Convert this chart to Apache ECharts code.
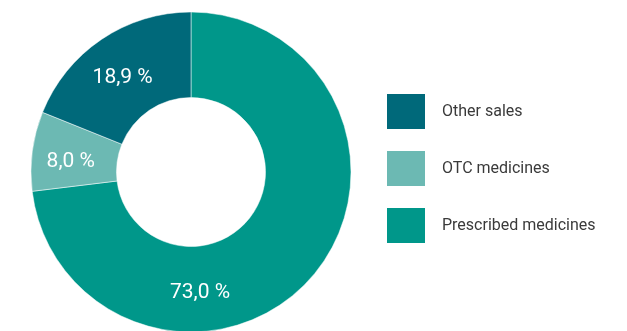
<!DOCTYPE html>
<html>
<head>
<meta charset="utf-8">
<style>
  html, body { margin: 0; padding: 0; background: #ffffff; }
  #chart { width: 627px; height: 331px; }
</style>
<script src="https://cdn.jsdelivr.net/npm/echarts@6/dist/echarts.min.js"></script>
</head>
<body>
<div id="chart"></div>
<script>
// Sales split, drawn clockwise from 12 o'clock
const categories = ['Prescribed medicines', 'OTC medicines', 'Other sales'];
const shares = [73.0, 8.0, 18.9];
const colors = ['#00978a', '#6cb9b3', '#00697a'];
const legendOrder = ['Other sales', 'OTC medicines', 'Prescribed medicines'];

const fmt = v => v.toFixed(1).replace('.', ',') + ' %';

const chart = echarts.init(document.getElementById('chart'), null, { renderer: 'canvas' });

chart.setOption({
  animation: false,
  color: colors,
  legend: {
    data: legendOrder,
    orient: 'vertical',
    left: 380,
    top: 87,
    itemWidth: 40,
    itemHeight: 37,
    itemGap: 18,
    icon: 'rect',
    selectedMode: false,
    textStyle: {
      color: '#3a3a3a',
      fontFamily: 'Roboto',
      fontSize: 16,
      padding: [0, 0, 0, 11]
    }
  },
  series: [{
    type: 'pie',
    center: [191, 172],
    radius: [74.5, 160],
    startAngle: 90,
    clockwise: true,
    silent: true,
    itemStyle: { borderColor: '#ffffff', borderWidth: 0.5 },
    label: {
      show: true,
      position: 'inside',
      color: '#ffffff',
      fontFamily: 'Roboto',
      fontSize: 21,
      formatter: p => fmt(p.value)
    },
    labelLine: { show: false },
    labelLayout: function (p) {
      // the large slice keeps its label near the bottom of the ring
      if (p.dataIndex === 0) return { dx: -81, dy: 41 };
      return { dx: -1, dy: 5 };
    },
    data: categories.map((name, i) => ({ name, value: shares[i] }))
  }]
});
</script>
</body>
</html>
